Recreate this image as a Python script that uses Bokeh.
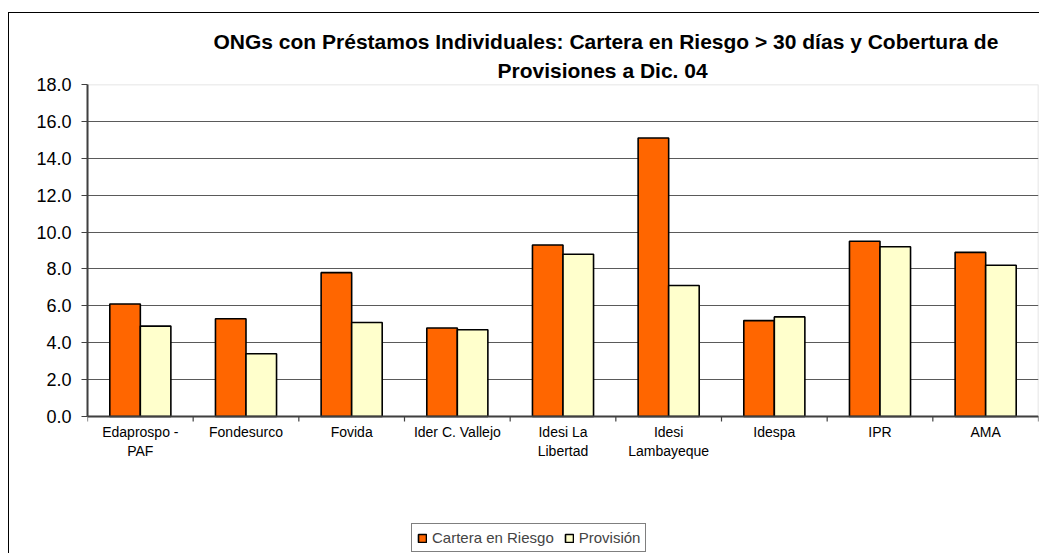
import numpy as np
from bokeh.plotting import figure
from bokeh.models import (Range1d, FixedTicker, Title, Legend, LegendItem, Span,
                          BoxAnnotation, ColumnDataSource, NumeralTickFormatter)
from bokeh.embed import file_html
from bokeh.resources import INLINE
from bokeh.core.properties import value

# ---- data ----
categories = ["Edaprospo -\nPAF", "Fondesurco", "Fovida", "Ider C. Vallejo",
              "Idesi La\nLibertad", "Idesi\nLambayeque", "Idespa", "IPR", "AMA"]
cartera = [6.1, 5.3, 7.8, 4.8, 9.3, 15.1, 5.2, 9.5, 8.9]
provision = [4.9, 3.4, 5.1, 4.7, 8.8, 7.1, 5.4, 9.2, 8.2]
y_ticks = [0, 2, 4, 6, 8, 10, 12, 14, 16, 18]
series_names = ["Cartera en Riesgo", "Provisión"]
title_line1 = "ONGs con Préstamos Individuales: Cartera en Riesgo > 30 días y Cobertura de"
title_line2 = "Provisiones  a Dic. 04"

# ---- layout constants (pixels) ----
FONT = "Liberation Sans"
BAR_W = 0.289
OFF = 0.1445
FRAME_W = 951
PLOT_H = 332          # pixel height of the value area 0..18
FRAME_H = 468         # frame extends below the value area to hold labels + legend
Y_MAX = y_ticks[-1]
PX_PER_UNIT = PLOT_H / Y_MAX
Y_MIN = Y_MAX - FRAME_H / PX_PER_UNIT
TICK_LEN = 5 / PX_PER_UNIT

n = len(categories)
idx = np.arange(n)
src = ColumnDataSource(dict(x1=idx + 0.5 - OFF, x2=idx + 0.5 + OFF,
                            cartera=cartera, provision=provision))
lab_src = ColumnDataSource(dict(x=idx + 0.5, y=np.zeros(n), text=categories))
bnd = np.arange(n + 1)
tick_src = ColumnDataSource(dict(x=bnd, y0=np.zeros(n + 1), y1=np.full(n + 1, -TICK_LEN)))

p = figure(frame_width=FRAME_W, frame_height=FRAME_H, output_backend="svg",
           toolbar_location=None, x_axis_location=None,
           x_range=Range1d(0, n), y_range=Range1d(Y_MIN, Y_MAX),
           min_border_left=78, min_border_right=1, min_border_top=71,
           min_border_bottom=1, title=None)
p.styles = {"margin-top": "12px", "margin-left": "8px",
            "border-top": "1px solid #000", "border-left": "1px solid #000"}
p.background_fill_color = "white"
p.border_fill_color = "white"
p.outline_line_color = None

# plot-area border (value area only)
p.add_layout(BoxAnnotation(left=0, right=n, bottom=0, top=Y_MAX, fill_alpha=0,
                           line_color="#8c8c8c", line_width=1.5, level="underlay"))

r1 = p.vbar(x="x1", top="cartera", bottom=0, width=BAR_W, source=src,
            fill_color="#FF6600", line_color="black", line_width=1.6)
r2 = p.vbar(x="x2", top="provision", bottom=0, width=BAR_W, source=src,
            fill_color="#FFFFCC", line_color="black", line_width=1.6)

# y axis
p.yaxis.ticker = FixedTicker(ticks=y_ticks)
p.yaxis.bounds = (0, Y_MAX)
p.yaxis.formatter = NumeralTickFormatter(format="0.0")
p.yaxis.major_label_text_font = FONT
p.yaxis.major_label_text_font_size = "18px"
p.yaxis.major_label_text_color = "black"
p.yaxis.major_tick_out = 6
p.yaxis.major_tick_in = 0
p.yaxis.minor_tick_line_color = None
p.yaxis.axis_line_width = 2
p.yaxis.axis_line_color = "#404040"
p.yaxis.major_tick_line_color = "#404040"
p.yaxis.major_label_standoff = 10

# grid: horizontal lines only
p.xgrid.visible = False
p.ygrid.ticker = FixedTicker(ticks=y_ticks)
p.ygrid.grid_line_color = "#5a5a5a"
p.ygrid.grid_line_width = 1

# category axis: line at 0, boundary ticks, centred labels
p.segment(x0="x", x1="x", y0="y0", y1="y1", source=tick_src,
          line_color="#404040", line_width=1.2)
p.add_layout(Span(location=0, dimension="width", line_color="#404040", line_width=2))
p.text(x="x", y="y", text="text", source=lab_src, text_align="center",
       text_baseline="top", y_offset=7, text_font=value(FONT),
       text_font_size=value("14px"), text_color="black", text_line_height=1.2)

# title (two lines; first added sits closest to the frame)
for txt, off, so in [(title_line2, 410, 6), (title_line1, 126, 2)]:
    p.add_layout(Title(text=txt, align="left", offset=off, standoff=so,
                       text_font=FONT, text_font_size="21px", text_font_style="bold",
                       text_color="black"), "above")

legend = Legend(items=[LegendItem(label=series_names[0], renderers=[r1]),
                       LegendItem(label=series_names[1], renderers=[r2])],
                orientation="horizontal", location=(324, 0),
                glyph_width=10, glyph_height=10, label_standoff=5, spacing=10,
                padding=5, margin=0, border_line_color="black", border_line_width=1,
                label_text_font=FONT, label_text_font_size="15px",
                background_fill_color="white", background_fill_alpha=1)
p.add_layout(legend)

open("out.html", "w").write(file_html(p, INLINE))
